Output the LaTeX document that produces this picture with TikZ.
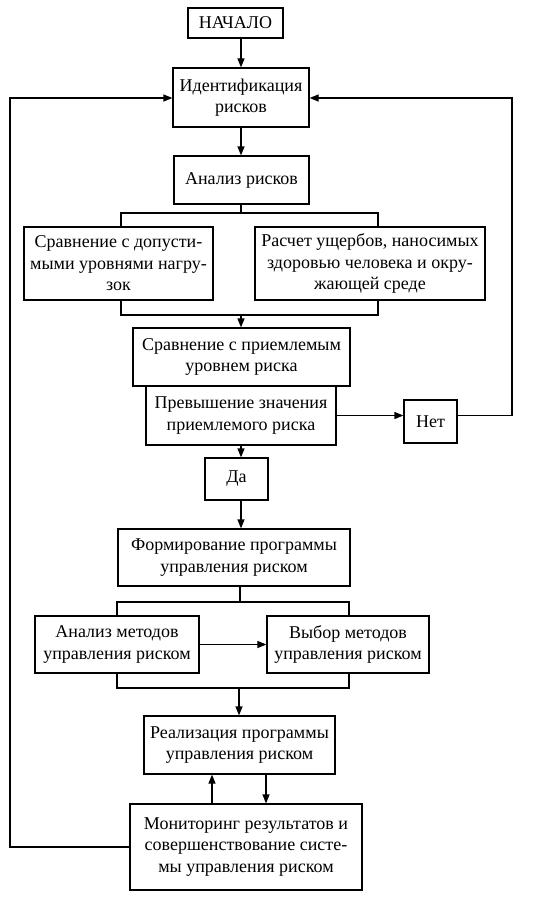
\documentclass[tikz,border=0pt]{standalone}
\usepackage{fontspec}
\setmainfont{Liberation Serif}
\usetikzlibrary{arrows.meta}
\begin{document}
\begin{tikzpicture}[x=1pt,y=-1pt,
  box/.style={draw,line width=1.2pt,inner sep=0pt,align=center,
    font=\fontsize{18}{21.5}\selectfont},
  arr/.style={line width=1.2pt,-{Triangle[length=9pt,width=7pt]}},
  ln/.style={line width=1.2pt}]
\useasboundingbox (0,0) rectangle (551,899);
\node[box,minimum width=95pt,minimum height=30pt] (start) at (235.5,23) {НАЧАЛО};
\node[box,minimum width=136pt,minimum height=59pt] (ident) at (241,97.5) {Идентификация\\рисков};
\node[box,minimum width=135pt,minimum height=48pt] (anal) at (241.5,180) {Анализ рисков};
\node[box,minimum width=189pt,minimum height=73pt] (cmpa) at (118.5,263.5) {Сравнение с допусти-\\мыми уровнями нагру-\\зок};
\node[box,minimum width=230pt,minimum height=73pt] (calc) at (370,263.5) {Расчет ущербов, наносимых\\здоровью человека и окру-\\жающей среде};
\node[box,minimum width=217pt,minimum height=58pt] (cmpb) at (241.5,357) {Сравнение с приемлемым\\уровнем риска};
\node[box,minimum width=190pt,minimum height=59pt] (exc) at (241,415.5) {Превышение значения\\приемлемого риска};
\node[box,minimum width=53pt,minimum height=43pt] (net) at (430.5,421.5) {Нет};
\node[box,minimum width=63pt,minimum height=42pt] (da) at (236.5,479) {Да};
\node[box,minimum width=232pt,minimum height=57pt] (form) at (234,557.5) {Формирование программы\\управления риском};
\node[box,minimum width=164pt,minimum height=57pt] (am) at (117,644.5) {Анализ методов\\управления риском};
\node[box,minimum width=162pt,minimum height=57pt] (vm) at (348,644.5) {Выбор методов\\управления риском};
\node[box,minimum width=191pt,minimum height=58pt] (real) at (239.5,745) {Реализация программы\\управления риском};
\node[box,minimum width=232pt,minimum height=86pt] (mon) at (246,847) {Мониторинг результатов и\\совершенствование систе-\\мы управления риском};
% coordinates
\coordinate (ax) at (241,0);
\coordinate (b1) at (241,213);
\coordinate (b1l) at (121,213);
\coordinate (b1r) at (378,213);
\coordinate (b2) at (241,315);
\coordinate (b2l) at (121,315);
\coordinate (b2r) at (378,315);
\coordinate (b3) at (240,602);
\coordinate (b3l) at (117,602);
\coordinate (b3r) at (349,602);
\coordinate (b4) at (239,688);
\coordinate (b4l) at (117,688);
\coordinate (b4r) at (349,688);
\coordinate (rl) at (512,98);
\coordinate (ll) at (10,98);
\coordinate (up) at (212,0);
\coordinate (dn) at (266,0);
% connectors
\draw[arr] (start.south -| ax) -- (ident.north -| ax);
\draw[arr] (ident.south -| ax) -- (anal.north -| ax);
\draw[ln] (anal.south -| b1) -- (b1);
\draw[ln] (b1l |- cmpa.north) -- (b1l) -- (b1r) -- (b1r |- calc.north);
\draw[ln] (b2l |- cmpa.south) -- (b2l) -- (b2r) -- (b2r |- calc.south);
\draw[arr] (b2) -- (cmpb.north -| b2);
\draw[arr] (exc.east) -- (exc.east -| net.west);
\draw[arr] (net.east |- exc.east) -- (rl |- exc.east) -- (rl) -- (ident.east |- rl);
\draw[arr] (exc.south -| ax) -- (da.north -| ax);
\draw[arr] (da.south -| ax) -- (form.north -| ax);
\draw[ln] (form.south -| b3) -- (b3);
\draw[ln] (b3l |- am.north) -- (b3l) -- (b3r) -- (b3r |- vm.north);
\draw[arr] (am.east) -- (vm.west);
\draw[ln] (b4l |- am.south) -- (b4l) -- (b4r) -- (b4r |- vm.south);
\draw[arr] (b4) -- (real.north -| b4);
\draw[arr] (mon.north -| up) -- (real.south -| up);
\draw[arr] (real.south -| dn) -- (mon.north -| dn);
\draw[arr] (mon.west) -- (ll |- mon.west) -- (ll) -- (ident.west |- ll);
\end{tikzpicture}
\end{document}
